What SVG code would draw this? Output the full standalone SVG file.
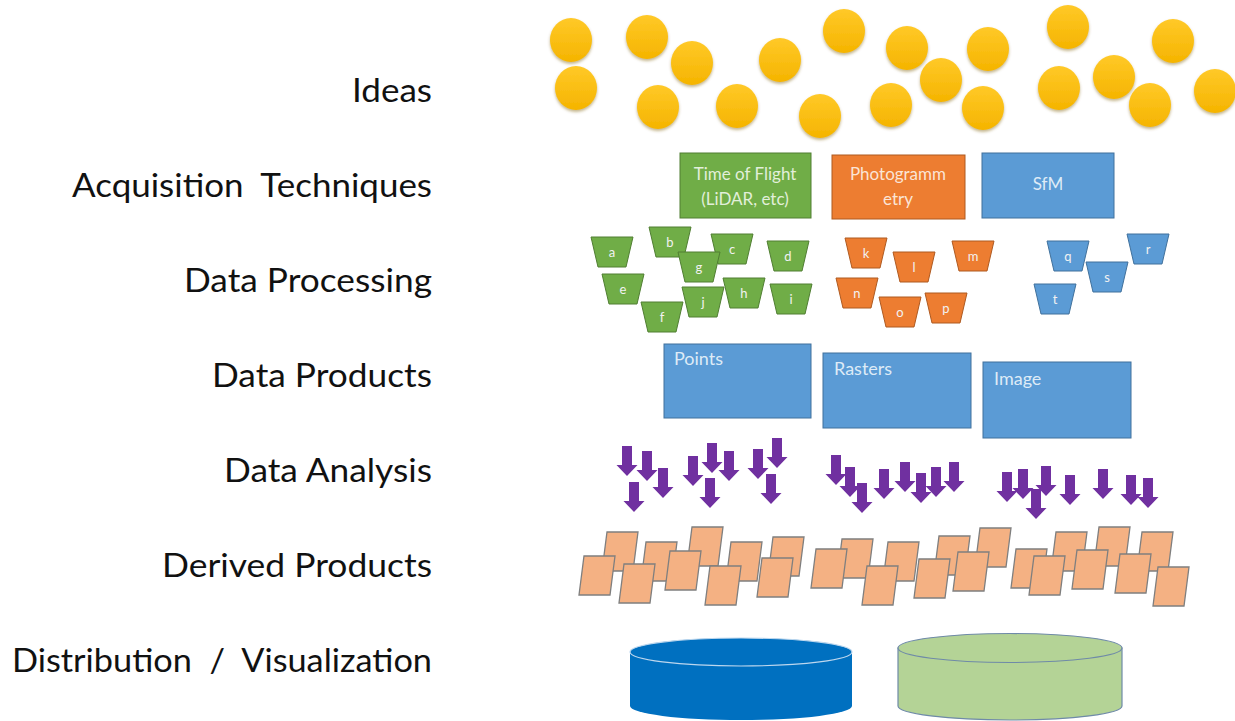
<svg xmlns="http://www.w3.org/2000/svg" xmlns:xlink="http://www.w3.org/1999/xlink" width="1235" height="721" viewBox="0 0 1235 721">
<style>
.lbl{font-family:Lato,"Liberation Sans",sans-serif;font-size:33px;fill:#111;text-anchor:end}
.idea{fill:url(#gold);filter:url(#sh)}
.tz{stroke-width:1}
.g{fill:#70AD47;stroke:#507E32}
.o{fill:#ED7D31;stroke:#AE5A21}
.b{fill:#5B9BD5;stroke:#41719C}
.tl{font-family:Lato,"Liberation Sans",sans-serif;font-size:13px;fill:#F2F2F2;text-anchor:middle}
.bt{font-family:Lato,"Liberation Sans",sans-serif;font-size:17px;text-anchor:middle}
.pt{font-family:Lato,"Liberation Sans",sans-serif;font-size:18px;fill:#DEEBF7}
.arr{fill:#7030A0}
.par{fill:#F4B183;stroke:#7F7F7F;stroke-width:1.3}
</style>
<defs>
<linearGradient id="gold" x1="0" y1="0" x2="0" y2="1">
<stop offset="0" stop-color="#FFC928"/>
<stop offset="1" stop-color="#F5B400"/>
</linearGradient>
<filter id="sh" x="-30%" y="-30%" width="160%" height="170%">
<feDropShadow dx="0" dy="2" stdDeviation="1.5" flood-color="#7a5a00" flood-opacity="0.45"/>
</filter>
<path id="tz" d="M-21,0 H21 L14,30 H-14 Z"/>
<path id="ar" d="M-5,0 H5 V19 H10.5 L0,30 L-10.5,19 H-5 Z"/>
<path id="pg" d="M0,0 H31 L26,39 H-5 Z"/>
</defs>

<g id="labels">
<text class="lbl" x="432" y="102" textLength="80" lengthAdjust="spacingAndGlyphs">Ideas</text>
<text class="lbl" x="432" y="197" xml:space="preserve" textLength="360" lengthAdjust="spacingAndGlyphs">Acquisition  Techniques</text>
<text class="lbl" x="432" y="292" textLength="248" lengthAdjust="spacingAndGlyphs">Data Processing</text>
<text class="lbl" x="432" y="387" textLength="220" lengthAdjust="spacingAndGlyphs">Data Products</text>
<text class="lbl" x="432" y="482" textLength="208" lengthAdjust="spacingAndGlyphs">Data Analysis</text>
<text class="lbl" x="432" y="577" textLength="270" lengthAdjust="spacingAndGlyphs">Derived Products</text>
<text class="lbl" x="432" y="672" xml:space="preserve" textLength="420" lengthAdjust="spacingAndGlyphs">Distribution  /  Visualization</text>
</g>

<g id="ideas">
<ellipse class="idea" cx="571" cy="40" rx="21" ry="22"/>
<ellipse class="idea" cx="576" cy="88" rx="21" ry="22"/>
<ellipse class="idea" cx="647" cy="37" rx="21" ry="22"/>
<ellipse class="idea" cx="692" cy="63" rx="21" ry="22"/>
<ellipse class="idea" cx="658" cy="107" rx="21" ry="22"/>
<ellipse class="idea" cx="737" cy="106" rx="21" ry="22"/>
<ellipse class="idea" cx="780" cy="60" rx="21" ry="22"/>
<ellipse class="idea" cx="820" cy="116" rx="21" ry="22"/>
<ellipse class="idea" cx="844" cy="31" rx="21" ry="22"/>
<ellipse class="idea" cx="907" cy="48" rx="21" ry="22"/>
<ellipse class="idea" cx="891" cy="105" rx="21" ry="22"/>
<ellipse class="idea" cx="941" cy="80" rx="21" ry="22"/>
<ellipse class="idea" cx="988" cy="49" rx="21" ry="22"/>
<ellipse class="idea" cx="983" cy="108" rx="21" ry="22"/>
<ellipse class="idea" cx="1068" cy="27" rx="21" ry="22"/>
<ellipse class="idea" cx="1059" cy="88" rx="21" ry="22"/>
<ellipse class="idea" cx="1114" cy="77" rx="21" ry="22"/>
<ellipse class="idea" cx="1173" cy="41" rx="21" ry="22"/>
<ellipse class="idea" cx="1150" cy="105" rx="21" ry="22"/>
<ellipse class="idea" cx="1215" cy="91" rx="21" ry="22"/>
</g>

<g id="acq-tof">
<rect x="680" y="153" width="131" height="65" fill="#70AD47" stroke="#507E32"/>
<text class="bt" x="745" y="180" fill="#E2EFDA">Time of Flight</text>
<text class="bt" x="745" y="205" fill="#E2EFDA">(LiDAR, etc)</text>
</g>
<g id="acq-photo">
<rect x="832" y="155" width="133" height="64" fill="#ED7D31" stroke="#AE5A21"/>
<text class="bt" x="898" y="180" fill="#FBE5D6">Photogramm</text>
<text class="bt" x="898" y="205" fill="#FBE5D6">etry</text>
</g>
<g id="acq-sfm">
<rect x="982" y="153" width="132" height="65" fill="#5B9BD5" stroke="#41719C"/>
<text class="bt" x="1048" y="190" fill="#DEEBF7">SfM</text>
</g>

<g id="processing">
<g id="p-a"><use href="#tz" class="tz g" x="612" y="237"/><text class="tl" x="612" y="257">a</text></g>
<g id="p-b"><use href="#tz" class="tz g" x="670" y="227"/><text class="tl" x="670" y="247">b</text></g>
<g id="p-c"><use href="#tz" class="tz g" x="732" y="234"/><text class="tl" x="732" y="254">c</text></g>
<g id="p-g"><use href="#tz" class="tz g" x="699" y="252"/><text class="tl" x="699" y="272">g</text></g>
<g id="p-d"><use href="#tz" class="tz g" x="788" y="241"/><text class="tl" x="788" y="261">d</text></g>
<g id="p-e"><use href="#tz" class="tz g" x="623" y="274"/><text class="tl" x="623" y="294">e</text></g>
<g id="p-f"><use href="#tz" class="tz g" x="662" y="302"/><text class="tl" x="662" y="322">f</text></g>
<g id="p-h"><use href="#tz" class="tz g" x="744" y="278"/><text class="tl" x="744" y="298">h</text></g>
<g id="p-j"><use href="#tz" class="tz g" x="703" y="287"/><text class="tl" x="703" y="307">j</text></g>
<g id="p-i"><use href="#tz" class="tz g" x="791" y="284"/><text class="tl" x="791" y="304">i</text></g>
<g id="p-k"><use href="#tz" class="tz o" x="866" y="238"/><text class="tl" x="866" y="258">k</text></g>
<g id="p-l"><use href="#tz" class="tz o" x="914" y="252"/><text class="tl" x="914" y="272">l</text></g>
<g id="p-m"><use href="#tz" class="tz o" x="973" y="241"/><text class="tl" x="973" y="261">m</text></g>
<g id="p-n"><use href="#tz" class="tz o" x="857" y="278"/><text class="tl" x="857" y="298">n</text></g>
<g id="p-o"><use href="#tz" class="tz o" x="900" y="297"/><text class="tl" x="900" y="317">o</text></g>
<g id="p-p"><use href="#tz" class="tz o" x="946" y="293"/><text class="tl" x="946" y="313">p</text></g>
<g id="p-q"><use href="#tz" class="tz b" x="1068" y="241"/><text class="tl" x="1068" y="261">q</text></g>
<g id="p-r"><use href="#tz" class="tz b" x="1148" y="234"/><text class="tl" x="1148" y="254">r</text></g>
<g id="p-s"><use href="#tz" class="tz b" x="1107" y="262"/><text class="tl" x="1107" y="282">s</text></g>
<g id="p-t"><use href="#tz" class="tz b" x="1055" y="284"/><text class="tl" x="1055" y="304">t</text></g>
</g>

<g id="prod-points">
<rect x="664" y="344" width="147" height="74" fill="#5B9BD5" stroke="#41719C"/>
<text class="pt" x="674" y="365">Points</text>
</g>
<g id="prod-rasters">
<rect x="823" y="353" width="148" height="75" fill="#5B9BD5" stroke="#41719C"/>
<text class="pt" x="834" y="375">Rasters</text>
</g>
<g id="prod-image">
<rect x="983" y="362" width="148" height="76" fill="#5B9BD5" stroke="#41719C"/>
<text class="pt" x="994" y="385">Image</text>
</g>

<g id="analysis" class="arr">
<use href="#ar" x="627" y="446"/>
<use href="#ar" x="647" y="451"/>
<use href="#ar" x="663" y="468"/>
<use href="#ar" x="634" y="482"/>
<use href="#ar" x="693" y="456"/>
<use href="#ar" x="712" y="443"/>
<use href="#ar" x="729" y="451"/>
<use href="#ar" x="710" y="478"/>
<use href="#ar" x="758" y="449"/>
<use href="#ar" x="777" y="438"/>
<use href="#ar" x="771" y="474"/>
<use href="#ar" x="836" y="455"/>
<use href="#ar" x="850" y="467"/>
<use href="#ar" x="862" y="483"/>
<use href="#ar" x="884" y="469"/>
<use href="#ar" x="905" y="462"/>
<use href="#ar" x="921" y="473"/>
<use href="#ar" x="936" y="467"/>
<use href="#ar" x="954" y="462"/>
<use href="#ar" x="1007" y="472"/>
<use href="#ar" x="1023" y="469"/>
<use href="#ar" x="1046" y="466"/>
<use href="#ar" x="1036" y="489"/>
<use href="#ar" x="1070" y="475"/>
<use href="#ar" x="1103" y="469"/>
<use href="#ar" x="1131" y="475"/>
<use href="#ar" x="1148" y="478"/>
</g>

<g id="derived">
<use href="#pg" class="par" x="607" y="532"/>
<use href="#pg" class="par" x="584" y="556"/>
<use href="#pg" class="par" x="646" y="542"/>
<use href="#pg" class="par" x="692" y="527"/>
<use href="#pg" class="par" x="624" y="564"/>
<use href="#pg" class="par" x="670" y="551"/>
<use href="#pg" class="par" x="731" y="542"/>
<use href="#pg" class="par" x="710" y="566"/>
<use href="#pg" class="par" x="773" y="537"/>
<use href="#pg" class="par" x="762" y="558"/>
<use href="#pg" class="par" x="842" y="539"/>
<use href="#pg" class="par" x="816" y="549"/>
<use href="#pg" class="par" x="888" y="542"/>
<use href="#pg" class="par" x="867" y="566"/>
<use href="#pg" class="par" x="939" y="536"/>
<use href="#pg" class="par" x="980" y="528"/>
<use href="#pg" class="par" x="919" y="559"/>
<use href="#pg" class="par" x="958" y="552"/>
<use href="#pg" class="par" x="1056" y="532"/>
<use href="#pg" class="par" x="1099" y="527"/>
<use href="#pg" class="par" x="1142" y="532"/>
<use href="#pg" class="par" x="1016" y="549"/>
<use href="#pg" class="par" x="1034" y="556"/>
<use href="#pg" class="par" x="1077" y="550"/>
<use href="#pg" class="par" x="1120" y="554"/>
<use href="#pg" class="par" x="1158" y="567"/>
</g>

<g id="db-blue">
<path d="M630,652 V706 A111,14 0 0 0 852,706 V652 Z" fill="#0070C0"/>
<ellipse cx="741" cy="652" rx="111" ry="14" fill="#0070C0" stroke="#BDD7EE" stroke-width="1.2"/>
</g>
<g id="db-green">
<path d="M898,648 V706 A112,14 0 0 0 1122,706 V648 Z" fill="#B4D396" stroke="#6F8AA8" stroke-width="1.2"/>
<ellipse cx="1010" cy="648" rx="112" ry="14.5" fill="#B4D396" stroke="#6F8AA8" stroke-width="1.2"/>
</g>
</svg>
